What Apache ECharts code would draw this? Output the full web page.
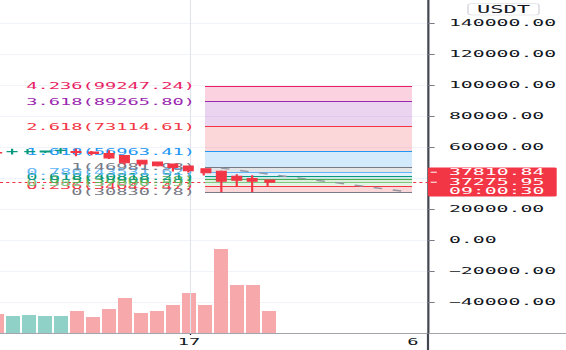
<!DOCTYPE html>
<html><head><meta charset="utf-8">
<script src="https://cdn.jsdelivr.net/npm/echarts@6/dist/echarts.min.js"></script>
<style>
html,body{margin:0;padding:0;overflow:hidden;background:#fff;width:566px;height:350px}
#c{width:257px;height:350px;transform:scaleX(2.202335);transform-origin:0 0;}
</style>
</head><body><div id="c"></div>
<script>
// ---- data ----
const candleIndex = [-1, 0, 1, 2, 3, 4, 5, 6, 7, 8, 9, 10, 11, 12, 13, 14, 15, 16];
const opens  = [56380, 56900, 56950, 56700, 57700, 57020, 56830, 55740, 54452, 51430, 50273, 48987, 47702, 45902, 44359, 41144, 39666, 38700];
const closes = [56060, 57100, 57150, 57345, 57860, 56500, 55740, 52973, 49759, 48987, 47830, 46737, 44616, 43330, 37930, 38573, 37930, 37275.95];
const lows   = [55740, 55100, 55400, 56060, 55700, 54000, 54645, 52200, 48666, 47573, 47380, 44166, 43523, 41594, 30830.78, 34330, 30900, 34740];
const highs  = [56700, 58950, 58700, 57700, 59300, 58950, 57345, 57860, 54800, 51800, 50500, 49300, 48000, 46095, 44809, 42430, 41787, 38900];
const volumes = [1900, 1700, 1800, 1700, 1700, 2200, 1600, 2400, 3500, 2000, 2200, 2800, 4000, 2800, 8400, 4800, 4800, 2200];

const fibRatios = [0, 0.236, 0.382, 0.5, 0.618, 0.786, 1, 1.618, 2.618, 3.618, 4.236];
const fibPrices = [30830.78, 34642.47, 37000.53, 38906.38, 40818.21, 43531.62, 46981.98, 56963.41, 73114.61, 89265.80, 99247.24];
const fibColors = ['#787b86', '#f23645', '#81c784', '#4caf50', '#089981', '#64b5f6', '#787b86', '#2196f3', '#f23645', '#9c27b0', '#e91e63'];
const fibStartX = 12, fibEndX = 24.94;

const trendX = [13, 24.94];
const trendY = [46400, 30700];

const xTickValues = [11, 25];
const xTickLabels = ['17', '6'];
const xMin = -0.8125, xMax = 25.9375;

const yMin = -60000, yMax = 160000, yStep = 20000;
const volMax = 34100;

const lastPrice = 37275.95;
const priceBoxLines = ['37810.84', '37275.95', '09:00:30'];
const currencyLabel = 'USDT';

// ---- style ----
const S = 566 / 257;
const MONO = 'DejaVu Sans Mono';
const UP = '#089981', DOWN = '#f23645';
const VUP = '#8fd0c7', VDOWN = '#f7a8ab';
function rgba(hex, a) { const n = parseInt(hex.slice(1), 16); return 'rgba(' + (n >> 16) + ',' + ((n >> 8) & 255) + ',' + (n & 255) + ',' + a + ')'; }
function fmtRatio(r) { return String(r); }

const fibLines = fibPrices.map((p, i) => [
  { coord: [fibStartX, p],
    lineStyle: { color: fibColors[i], width: 1, type: 'solid' },
    label: { show: true, position: 'start', distance: 4.5, formatter: fmtRatio(fibRatios[i]) + '(' + p.toFixed(2) + ')',
             color: fibColors[i], fontSize: 8.5, fontFamily: MONO, padding: [0, 0, 8, 0] } },
  { coord: [fibEndX, p] }
]);
const fibAreas = [];
for (let i = 1; i < fibPrices.length; i++) {
  fibAreas.push([
    { coord: [fibStartX, fibPrices[i - 1]], itemStyle: { color: rgba(fibColors[i], 0.2) } },
    { coord: [fibEndX, fibPrices[i]] }
  ]);
}

const chart = echarts.init(document.getElementById('c'), null, { renderer: 'svg' });
const option = {
  animation: false,
  backgroundColor: '#ffffff',
  grid: { left: 0, right: 257 - 428 / S, top: -8, bottom: 17, outerBoundsMode: 'none', containLabel: false },
  xAxis: {
    type: 'value', min: xMin, max: xMax, z: 5,
    axisLine: { show: true, onZero: false, lineStyle: { color: '#a3a6af', width: 1 } },
    axisTick: { show: true, customValues: [xTickValues[0]], length: 2, lineStyle: { color: '#131722', width: 0.6 } },
    axisLabel: { show: true, customValues: xTickValues, margin: 5, fontSize: 8.5, fontFamily: MONO, color: '#131722',
                 formatter: v => { const i = xTickValues.indexOf(v); return i >= 0 ? xTickLabels[i] : ''; } },
    splitLine: { show: false }
  },
  yAxis: [{
    type: 'value', position: 'right', min: yMin, max: yMax, interval: yStep,
    axisLine: { show: true, onZero: false, lineStyle: { color: '#434651', width: 1 } },
    axisTick: { show: true, inside: false, length: 3, lineStyle: { color: '#787b86', width: 1 } },
    axisLabel: { margin: 9.5, fontSize: 9, fontFamily: MONO, color: '#131722', showMinLabel: false, showMaxLabel: false,
                 formatter: v => (v < 0 ? '\u2212' : '') + Math.abs(v).toFixed(2) },
    splitLine: { show: true, lineStyle: { color: '#f0f3fa', width: 1 } }
  }, {
    type: 'value', min: 0, max: volMax, show: false, axisLine: { show: false, onZero: false }, splitLine: { show: false }
  }],
  series: [
    {
      type: 'bar', name: 'volume', xAxisIndex: 0, yAxisIndex: 1, barWidth: 14 / S, z: 1,
      data: candleIndex.map((k, i) => ({ value: [k, volumes[i]], itemStyle: { color: closes[i] >= opens[i] ? VUP : VDOWN } })),
      silent: true
    },
    {
      type: 'line', name: 'fib', xAxisIndex: 0, yAxisIndex: 0, z: 4, showSymbol: false, symbol: 'none', silent: true,
      data: trendX.map((x, i) => [x, trendY[i]]),
      lineStyle: { color: '#9598a1', width: 1.4, type: [4, 5] },
      markArea: { silent: true, z: 1, label: { show: false }, data: fibAreas },
      markLine: { silent: true, z: 3, symbol: ['none', 'none'], animation: false, data: fibLines }
    },
    {
      type: 'candlestick', name: 'price', xAxisIndex: 0, yAxisIndex: 0, z: 10, barWidth: 4.5,
      data: candleIndex.map((k, i) => [k, opens[i], closes[i], lows[i], highs[i]]),
      itemStyle: { color: UP, color0: DOWN, borderColor: UP, borderColor0: DOWN, borderWidth: 1 },
      markLine: {
        silent: true, z: 2, symbol: ['none', 'none'], label: { show: false },
        data: [
          { xAxis: xTickValues[0], lineStyle: { color: '#e0e3eb', width: 0.5, type: 'solid' } },
          { yAxis: lastPrice, lineStyle: { color: '#f23645', width: 1, type: [1.4, 1.4] } }
        ]
      }
    }
  ]
};
chart.setOption(option);

// price-axis decorations positioned via the chart's scales
const axX = chart.convertToPixel({ xAxisIndex: 0 }, xMax);
const axBottom = Math.round(chart.convertToPixel({ yAxisIndex: 0 }, yMin)) + 0.5;
const py = chart.convertToPixel({ yAxisIndex: 0 }, lastPrice);
const txtX = axX + 21 / S;
const F9 = '9px ' + MONO;
chart.setOption({
  graphic: [
    { type: 'line', shape: { x1: 0, y1: axBottom, x2: 257, y2: axBottom }, style: { stroke: '#a3a6af', lineWidth: 1 }, z: 15, silent: true },
    { type: 'line', shape: { x1: axX, y1: axBottom, x2: axX, y2: 350 }, style: { stroke: '#434651', lineWidth: 1 }, z: 15, silent: true },
    { type: 'rect', shape: { x: axX, y: py - 14.7, width: 128.7 / S, height: 29, r: 1 }, style: { fill: '#f23645' }, z: 20, silent: true },
    { type: 'line', shape: { x1: axX + 1.2, y1: py - 10, x2: axX + 4, y2: py - 10 }, style: { stroke: '#ffffff', lineWidth: 1 }, z: 21, silent: true },
    { type: 'line', shape: { x1: axX + 1.2, y1: py, x2: axX + 4, y2: py }, style: { stroke: '#ffffff', lineWidth: 1 }, z: 21, silent: true },
    { type: 'text', x: txtX, y: py - 10, style: { text: priceBoxLines[0], fill: '#ffffff', font: F9, textAlign: 'left', textVerticalAlign: 'middle' }, z: 21, silent: true },
    { type: 'text', x: txtX, y: py, style: { text: priceBoxLines[1], fill: '#ffffff', font: F9, textAlign: 'left', textVerticalAlign: 'middle' }, z: 21, silent: true },
    { type: 'text', x: txtX, y: py + 9, style: { text: priceBoxLines[2], fill: '#ffffff', font: F9, textAlign: 'left', textVerticalAlign: 'middle' }, z: 21, silent: true },
    { type: 'rect', shape: { x: 468 / S, y: 3.5, width: 71 / S, height: 11.5, r: 2 }, style: { fill: '#ffffff', stroke: '#d1d4dc', lineWidth: 0.6 }, z: 20, silent: true },
    { type: 'text', x: 503.5 / S, y: 9.5, style: { text: currencyLabel, fill: '#131722', font: '10px ' + MONO, textAlign: 'center', textVerticalAlign: 'middle' }, z: 21, silent: true }
  ]
});
</script>
</body></html>
